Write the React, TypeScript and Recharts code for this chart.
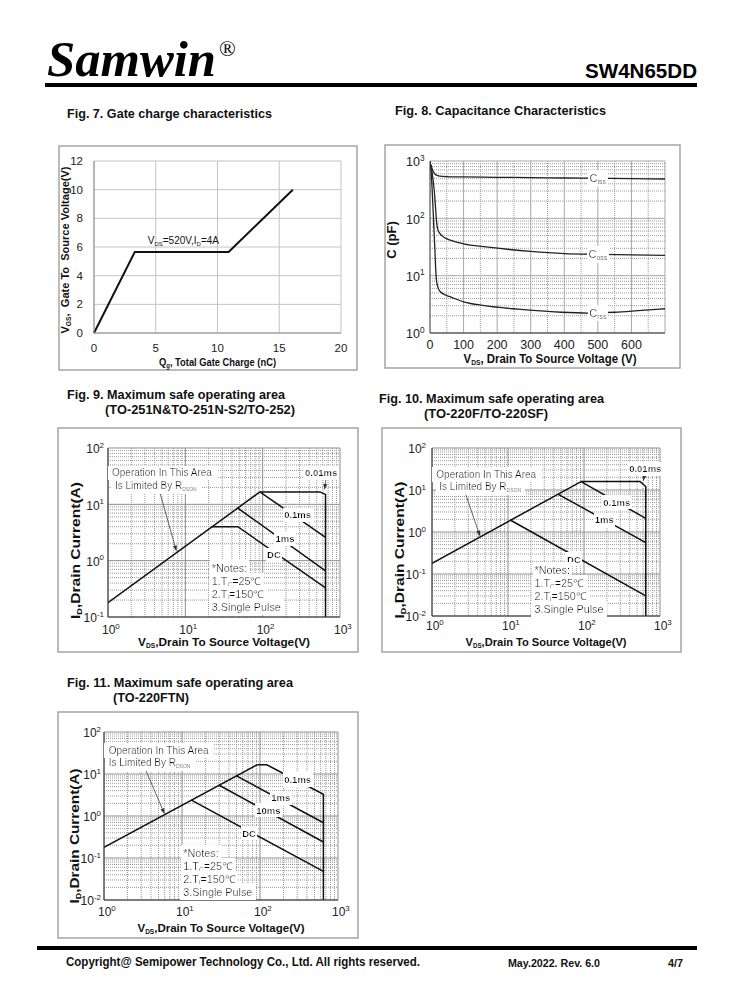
import React from "react";
import {
  ComposedChart,
  Line,
  XAxis,
  YAxis,
  CartesianGrid,
  ReferenceDot,
  ReferenceLine,
  Label,
} from "recharts";

const SANS = "'Liberation Sans', Arial, sans-serif";
const NARROW = "'Liberation Sans Narrow', 'Liberation Sans', Arial, sans-serif";
const INK = "#111";

// ---------- Fig. 7 gate charge ----------
const gateQ = [0, 3.3, 10.9, 16.1];
const gateVgs = [0, 5.65, 5.65, 10];
const gateTicksQ = [0, 5, 10, 15, 20];
const gateTicksV = [0, 2, 4, 6, 8, 10, 12];

// ---------- Fig. 8 capacitance ----------
const cissVds = [0, 4, 8, 12, 16, 20, 30, 50, 100, 200, 300, 400, 500, 600, 700];
const cissPf = [920, 800, 690, 620, 580, 560, 545, 535, 528, 520, 512, 505, 500, 492, 485];
const cossVds = [0, 5, 10, 14, 17, 19, 21, 24, 34, 58, 88, 100, 167, 237, 300, 400, 500, 600, 700];
const cossPf = [950, 700, 420, 250, 140, 95, 75, 62, 51, 42, 37.5, 36, 31.8, 28.6, 26.5, 24.3, 23.5, 23, 22.5];
const crssVds = [0, 3, 6, 9, 12, 14.6, 17, 19, 22, 30, 50, 64, 100, 163, 262, 391, 470, 550, 620, 700];
const crssPf = [1000, 700, 350, 150, 60, 28, 13, 8.5, 6.8, 5.3, 4.5, 4.2, 3.5, 3.0, 2.6, 2.3, 2.23, 2.3, 2.45, 2.65];
const capTicksV = [0, 100, 200, 300, 400, 500, 600];
const capTicksC = [1, 10, 100, 1000];
const capGridV = [100, 200, 300, 400, 500, 600, 700];
const capGridVMinor = [50, 150, 250, 350, 450, 550, 650];
const capGridCMinor = [2, 3, 4, 5, 6, 7, 8, 9, 20, 30, 40, 50, 60, 70, 80, 90, 200, 300, 400, 500, 600, 700, 800, 900];
const capLabelV = 500;
const capLabelC = [500, 23.5, 2.25];

// ---------- SOA shared ----------
const soaDecades = [1, 10, 100, 1000];
const soaMinorV = [2, 3, 4, 5, 6, 7, 8, 9, 20, 30, 40, 50, 60, 70, 80, 90, 200, 300, 400, 500, 600, 700, 800, 900];
const soa3Ticks = [0.1, 1, 10, 100];
const soa3Minor = [0.2, 0.3, 0.4, 0.5, 0.6, 0.7, 0.8, 0.9, 2, 3, 4, 5, 6, 7, 8, 9, 20, 30, 40, 50, 60, 70, 80, 90];
const soa4Ticks = [0.01, 0.1, 1, 10, 100];
const soa4Minor = [0.02, 0.03, 0.04, 0.05, 0.06, 0.07, 0.08, 0.09, ...soa3Minor];

// ---------- Fig. 9 ----------
const f9RdsonV = [1, 92];
const f9RdsonI = [0.18, 16.6];
const f9P10usV = [92, 550, 650, 650];
const f9P10usI = [16.6, 16.6, 15, 0.1];
const f9P100usV = [92, 650];
const f9P100usI = [16.6, 2.6];
const f9P1msV = [47.6, 650];
const f9P1msI = [8.6, 0.66];
const f9DcV = [22, 47.6, 650];
const f9DcI = [4.0, 4.0, 0.33];
const f9Tags = [
  { text: "0.01ms", v: 570, i: 36 },
  { text: "0.1ms", v: 283, i: 6.46 },
  { text: "1ms", v: 195, i: 2.42 },
  { text: "DC", v: 140, i: 1.26 },
];

// ---------- Fig. 10 ----------
const f10RdsonV = [1, 91.6];
const f10RdsonI = [0.18, 15.9];
const f10P10usV = [91.6, 546, 650, 650];
const f10P10usI = [15.9, 15.9, 12.1, 0.01];
const f10P100usV = [91.6, 650];
const f10P100usI = [15.9, 2.1];
const f10P1msV = [45.3, 650];
const f10P1msI = [8.0, 0.56];
const f10DcV = [10.7, 650];
const f10DcI = [1.93, 0.03];
const f10Tags = [
  { text: "0.01ms", v: 640, i: 31.5 },
  { text: "0.1ms", v: 270, i: 5.13 },
  { text: "1ms", v: 185, i: 1.94 },
  { text: "DC", v: 73.7, i: 0.223 },
];

// ---------- Fig. 11 ----------
const f11RdsonV = [1, 92];
const f11RdsonI = [0.18, 16.6];
const f11P100usV = [92, 122, 650, 650];
const f11P100usI = [16.6, 16.6, 3.3, 0.01];
const f11P1msV = [50, 650];
const f11P1msI = [9, 0.69];
const f11P10msV = [30, 650];
const f11P10msI = [5.4, 0.24];
const f11DcV = [13.2, 650];
const f11DcI = [2.38, 0.048];
const f11Tags = [
  { text: "0.1ms", v: 304, i: 7.3 },
  { text: "1ms", v: 185, i: 2.66 },
  { text: "10ms", v: 128, i: 1.35 },
  { text: "DC", v: 72.4, i: 0.39 },
];

const pairs = (xs: number[], ys: number[]) => xs.map((v, k) => ({ v, i: ys[k] }));

// ---------- small svg helpers ----------
function AxisTitle(props: any) {
  const { viewBox, vertical, shift = 0, off = 0, len, size = 12, text } = props;
  if (!viewBox) return null;
  const { x, y, width, height } = viewBox;
  const common = {
    textAnchor: "middle" as const,
    dy: size * 0.35,
    fontSize: size,
    fontWeight: 700,
    fontFamily: NARROW,
    fill: INK,
    textLength: len,
    lengthAdjust: len ? ("spacingAndGlyphs" as const) : undefined,
    style: { whiteSpace: "pre" as const },
  };
  if (vertical) {
    const cx = x + off;
    const cy = y + height / 2 + shift;
    return (
      <text x={cx} y={cy} transform={`rotate(-90 ${cx} ${cy})`} {...common}>
        {text}
      </text>
    );
  }
  return (
    <text x={x + width / 2 + shift} y={y + off} {...common}>
      {text}
    </text>
  );
}

function NumTick(props: any) {
  const { x, y, payload, side, gap = 0, size = 12 } = props;
  const common = { fontSize: size, fontFamily: NARROW, fill: "#222" };
  if (side === "y")
    return (
      <text x={x - gap} y={y} dy={size * 0.35} textAnchor="end" {...common}>
        {payload.value}
      </text>
    );
  return (
    <text x={x} y={y + gap} dy={size * 0.35} textAnchor="middle" {...common}>
      {payload.value}
    </text>
  );
}

function PowTick(props: any) {
  const { x, y, payload, side, gap = 0, size = 12 } = props;
  const e = Math.round(Math.log10(payload.value));
  const common = { fontSize: size, fontFamily: NARROW, fill: "#222" };
  const sup = (
    <tspan dy={-size * 0.45} fontSize={size * 0.66}>
      {e}
    </tspan>
  );
  if (side === "y")
    return (
      <text x={x - gap} y={y + 1} dy={size * 0.35} textAnchor="end" {...common}>
        10{sup}
      </text>
    );
  return (
    <text x={x - size * 0.5} y={y + gap} dy={size * 0.35} textAnchor="start" {...common}>
      10{sup}
    </text>
  );
}

function Tag(props: any) {
  const { viewBox, lines, size = 10.5, weight = 400, anchor = "start", gap = 13, bg = true } = props;
  if (!viewBox) return null;
  return (
    <g>
      {lines.map((ln: any, k: number) => (
        <text
          key={k}
          x={viewBox.x + (ln.dx || 0)}
          y={viewBox.y + k * gap + size * 0.35}
          textAnchor={anchor}
          fontSize={size}
          fontWeight={weight}
          fontFamily={NARROW}
          fill={INK}
          filter={bg ? "url(#paper)" : undefined}
        >
          {ln.node}
        </text>
      ))}
    </g>
  );
}

function ArrowShape(props: any) {
  const { x1, y1, x2, y2 } = props;
  const a = Math.atan2(y2 - y1, x2 - x1);
  const L = 6;
  const W = 2;
  const bx = x2 - L * Math.cos(a);
  const by = y2 - L * Math.sin(a);
  const px = -Math.sin(a) * W;
  const py = Math.cos(a) * W;
  return (
    <g>
      <line x1={x1} y1={y1} x2={bx} y2={by} stroke="#555" strokeWidth={0.9} />
      <polygon points={`${x2},${y2} ${bx + px},${by + py} ${bx - px},${by - py}`} fill="#333" />
    </g>
  );
}

const sub = (s: string, size = 6.5) => (
  <tspan fontSize={size} dy={2}>
    {s}
  </tspan>
);
const back = (s: string) => <tspan dy={-2}>{s}</tspan>;

const notesLines = [
  { node: "*Notes:" },
  { node: <>1.T{sub("C")}{back("=25℃")}</> },
  { node: <>2.T{sub("j")}{back("=150℃")}</> },
  { node: "3.Single Pulse" },
];
const opLines = (dx: number) => [
  { node: "Operation In This Area" },
  { node: <>Is Limited By R{sub("DSON", 5)}</>, dx },
];

// ---------- Fig. 7 ----------
function GateChargeChart() {
  const f = { l: 59, t: 146, r: 357, b: 370 };
  const p = { l: 94, t: 161, r: 341, b: 333 };
  const data = pairs(gateQ, gateVgs);
  return (
    <div style={{ position: "absolute", left: f.l, top: f.t }}>
      <ComposedChart
        width={f.r - f.l}
        height={f.b - f.t}
        data={data}
        margin={{ top: p.t - f.t, right: f.r - p.r, bottom: 0, left: 0 }}
      >
        <CartesianGrid stroke="#c4c4c4" />
        <XAxis
          dataKey="v"
          type="number"
          domain={[0, 20]}
          ticks={gateTicksQ}
          interval={0}
          height={f.b - p.b}
          tickSize={0}
          tickMargin={0}
          tickLine={false}
          axisLine={{ stroke: "#8c8c8c" }}
          tick={<NumTick side="x" gap={15} size={11.5} />}
        >
          <Label
            content={
              <AxisTitle
                off={29}
                len={117}
                size={11}
                text={<>Q{sub("g", 7)}{back(", Total Gate Charge (nC)")}</>}
              />
            }
          />
        </XAxis>
        <YAxis
          type="number"
          domain={[0, 12]}
          ticks={gateTicksV}
          interval={0}
          width={p.l - f.l}
          tickSize={0}
          tickMargin={0}
          tickLine={false}
          axisLine={{ stroke: "#8c8c8c" }}
          tick={<NumTick side="y" gap={11} size={11.5} />}
        >
          <Label
            content={
              <AxisTitle
                vertical
                off={6}
                shift={3}
                len={167}
                size={11.5}
                text={<>V{sub("GS", 7)}{back(",  Gate To  Source Voltage(V)")}</>}
              />
            }
          />
        </YAxis>
        <Line
          dataKey="i"
          type="linear"
          stroke={INK}
          strokeWidth={2}
          dot={false}
          isAnimationActive={false}
        />
        <ReferenceDot
          x={4.35}
          y={6.47}
          r={0}
          fill="none"
          stroke="none"
          label={
            <Tag
              bg={false}
              size={10}
              lines={[{ node: <>V{sub("DS", 6)}{back("=520V,I")}{sub("D", 6)}{back("=4A")}</> }]}
            />
          }
        />
      </ComposedChart>
    </div>
  );
}

// ---------- Fig. 8 ----------
function CapacitanceChart() {
  const f = { l: 385, t: 145, r: 680, b: 368 };
  const p = { l: 430, t: 161, r: 665, b: 333 };
  const curves = [
    { name: "iss", data: pairs(cissVds, cissPf) },
    { name: "oss", data: pairs(cossVds, cossPf) },
    { name: "rss", data: pairs(crssVds, crssPf) },
  ];
  return (
    <div style={{ position: "absolute", left: f.l, top: f.t }}>
      <ComposedChart
        width={f.r - f.l}
        height={f.b - f.t}
        margin={{ top: p.t - f.t, right: f.r - p.r, bottom: 0, left: 0 }}
      >
        <CartesianGrid
          verticalValues={capGridVMinor}
          horizontalValues={capGridCMinor}
          stroke="#9c9c9c"
          strokeDasharray="1 1"
        />
        <CartesianGrid verticalValues={capGridV} horizontalValues={capTicksC} stroke="#a8a8a8" />
        <XAxis
          dataKey="v"
          type="number"
          domain={[0, 700]}
          allowDataOverflow
          ticks={capTicksV}
          interval={0}
          height={f.b - p.b}
          tickSize={0}
          tickMargin={0}
          tickLine={false}
          axisLine={{ stroke: "#333" }}
          tick={<NumTick side="x" gap={12} size={12.5} />}
        >
          <Label
            content={
              <AxisTitle
                off={26}
                shift={2.5}
                len={173}
                size={12}
                text={<>V{sub("DS", 7)}{back(", Drain To Source Voltage (V)")}</>}
              />
            }
          />
        </XAxis>
        <YAxis
          type="number"
          scale="log"
          domain={[1, 1000]}
          allowDataOverflow
          ticks={capTicksC}
          interval={0}
          width={p.l - f.l}
          tickSize={0}
          tickMargin={0}
          tickLine={false}
          axisLine={{ stroke: "#333" }}
          tick={<PowTick side="y" gap={5.5} size={12.5} />}
        >
          <Label content={<AxisTitle vertical off={6} shift={-7} size={13} text="C (pF)" />} />
        </YAxis>
        {curves.map((c) => (
          <Line
            key={c.name}
            data={c.data}
            dataKey="i"
            type="monotone"
            stroke="#222"
            strokeWidth={1.3}
            dot={false}
            isAnimationActive={false}
          />
        ))}
        {curves.map((c, k) => (
          <ReferenceDot
            key={"l" + c.name}
            x={capLabelV}
            y={capLabelC[k]}
            r={0}
            fill="none"
            stroke="none"
            label={
              <Tag
                anchor="middle"
                size={11}
                lines={[{ node: <>C{sub(c.name, 7)}</> }]}
              />
            }
          />
        ))}
      </ComposedChart>
    </div>
  );
}

// ---------- SOA generic ----------
function SoaChart(props: any) {
  const { f, p, iDomain, iTicks, iMinor, series, tags, op, opDx, opArrow, tiny, notes, xt, yt, tg } = props;
  return (
    <div style={{ position: "absolute", left: f.l, top: f.t }}>
      <ComposedChart
        width={f.r - f.l}
        height={f.b - f.t}
        margin={{ top: p.t - f.t, right: f.r - p.r, bottom: 0, left: 0 }}
      >
        <CartesianGrid
          verticalValues={soaMinorV}
          horizontalValues={iMinor}
          stroke="#9a9a9a"
          strokeDasharray="1 1"
        />
        <CartesianGrid verticalValues={soaDecades} horizontalValues={iTicks} stroke="#8f8f8f" />
        <XAxis
          dataKey="v"
          type="number"
          scale="log"
          domain={[1, 1000]}
          allowDataOverflow
          ticks={soaDecades}
          interval={0}
          height={f.b - p.b}
          tickSize={0}
          tickMargin={0}
          tickLine={false}
          axisLine={{ stroke: "#333" }}
          tick={<PowTick side="x" gap={tg.x} size={12} />}
        >
          <Label
            content={
              <AxisTitle
                off={xt.off}
                len={xt.len}
                size={11.5}
                text={<>V{sub("DS", 6.5)}{back(",Drain To Source Voltage(V)")}</>}
              />
            }
          />
        </XAxis>
        <YAxis
          type="number"
          scale="log"
          domain={iDomain}
          allowDataOverflow
          ticks={iTicks}
          interval={0}
          width={p.l - f.l}
          tickSize={0}
          tickMargin={0}
          tickLine={false}
          axisLine={{ stroke: "#333" }}
          tick={<PowTick side="y" gap={tg.y} size={12} />}
        >
          <Label
            content={
              <AxisTitle
                vertical
                off={yt.off}
                shift={yt.shift}
                len={yt.len}
                size={12}
                text={<>I{sub("D", 7)}{back(",Drain Current(A)")}</>}
              />
            }
          />
        </YAxis>
        {series.map((s: any, k: number) => (
          <Line
            key={k}
            data={s}
            dataKey="i"
            type="linear"
            stroke={INK}
            strokeWidth={1.5}
            dot={false}
            isAnimationActive={false}
          />
        ))}
        <ReferenceLine
          segment={[
            { x: opArrow[0], y: opArrow[1] },
            { x: opArrow[2], y: opArrow[3] },
          ]}
          ifOverflow="visible"
          shape={ArrowShape}
        />
        {tiny && (
          <ReferenceLine
            segment={[
              { x: tiny[0], y: tiny[1] },
              { x: tiny[2], y: tiny[3] },
            ]}
            ifOverflow="visible"
            shape={ArrowShape}
          />
        )}
        {tags.map((t: any) => (
          <ReferenceDot
            key={t.text}
            x={t.v}
            y={t.i}
            r={0}
            fill="none"
            stroke="none"
            label={<Tag anchor="middle" size={9.5} weight={700} lines={[{ node: t.text }]} />}
          />
        ))}
        <ReferenceDot
          x={op.v}
          y={op.i}
          r={0}
          fill="none"
          stroke="none"
          label={<Tag size={10} gap={12.5} lines={opLines(opDx)} />}
        />
        <ReferenceDot
          x={notes.v}
          y={notes.i}
          r={0}
          fill="none"
          stroke="none"
          label={<Tag size={10.8} gap={13} lines={notesLines} />}
        />
      </ComposedChart>
    </div>
  );
}

function PageDecor() {
  const title = (x: number, y: number, s: string, len: number, size = 13.5) => (
    <text
      x={x}
      y={y}
      fontSize={size}
      fontWeight={700}
      fontFamily={NARROW}
      fill={INK}
      textLength={len}
      lengthAdjust="spacingAndGlyphs"
    >
      {s}
    </text>
  );
  const frame = (l: number, t: number, r: number, b: number) => (
    <rect x={l} y={t} width={r - l} height={b - t} fill="none" stroke="#a5a5a5" strokeWidth={1.5} />
  );
  return (
    <svg width={738} height={1000} style={{ position: "absolute", left: 0, top: 0 }}>
      <defs>
        <filter id="paper" x="-0.04" y="-0.1" width="1.08" height="1.2">
          <feFlood floodColor="#ffffff" result="bg" />
          <feMerge>
            <feMergeNode in="bg" />
            <feMergeNode in="SourceGraphic" />
          </feMerge>
        </filter>
      </defs>
      <text
        x={47}
        y={76}
        fontSize={50}
        fontWeight={700}
        fontStyle="italic"
        fontFamily="'Liberation Serif', 'Times New Roman', serif"
        fill="#000"
        textLength={169}
        lengthAdjust="spacingAndGlyphs"
      >
        Samwin
      </text>
      <text x={219} y={56} fontSize={22} fontFamily="'Liberation Serif', serif" fill="#000">
        ®
      </text>
      <text
        x={585}
        y={78}
        fontSize={20}
        fontWeight={700}
        fontFamily={SANS}
        fill="#000"
        textLength={112}
        lengthAdjust="spacingAndGlyphs"
      >
        SW4N65DD
      </text>
      <rect x={45} y={83} width={652} height={4} fill="#000" />

      {title(67, 118, "Fig. 7. Gate charge characteristics", 205)}
      {title(395, 115, "Fig. 8. Capacitance Characteristics", 211)}
      {title(67, 399, "Fig. 9. Maximum safe operating area", 218)}
      {title(105, 414, "(TO-251N&TO-251N-S2/TO-252)", 190)}
      {title(379, 403, "Fig. 10. Maximum safe operating area", 225)}
      {title(424, 418, "(TO-220F/TO-220SF)", 124)}
      {title(67, 687, "Fig. 11. Maximum safe operating area", 226)}
      {title(113, 702, "(TO-220FTN)", 76)}

      {frame(59, 146, 357, 370)}
      {frame(385, 145, 680, 368)}
      {frame(58, 428, 358, 652)}
      {frame(382, 428, 681, 652)}
      {frame(58, 712, 358, 938)}

      <rect x={37} y={946} width={660} height={4} fill="#000" />
      {title(66, 966, "Copyright@ Semipower Technology Co., Ltd. All rights reserved.", 354, 12.5)}
      {title(508, 967, "May.2022. Rev. 6.0", 92, 11.5)}
      {title(668, 967, "4/7", 15, 11.5)}
    </svg>
  );
}

export default function App() {
  return (
    <div
      style={{
        position: "absolute",
        left: 0,
        top: 0,
        width: 738,
        height: 1000,
        background: "#fff",
        overflow: "hidden",
        fontFamily: SANS,
      }}
    >
      <PageDecor />
      <GateChargeChart />
      <CapacitanceChart />
      <SoaChart
        f={{ l: 58, t: 428, r: 358, b: 652 }}
        p={{ l: 108, t: 448, r: 340, b: 617 }}
        iDomain={[0.1, 100]}
        iTicks={soa3Ticks}
        iMinor={soa3Minor}
        series={[
          pairs(f9RdsonV, f9RdsonI),
          pairs(f9P10usV, f9P10usI),
          pairs(f9P100usV, f9P100usI),
          pairs(f9P1msV, f9P1msI),
          pairs(f9DcV, f9DcI),
        ]}
        tags={f9Tags}
        op={{ v: 1.127, i: 36 }}
        opDx={3}
        opArrow={[4.5, 19.7, 7.7, 1.45]}
        tiny={[660, 29, 630, 18]}
        notes={{ v: 22, i: 0.73 }}
        xt={{ off: 25, len: 172 }}
        yt={{ off: 18, shift: 18, len: 137 }}
        tg={{ x: 13, y: 4 }}
      />
      <SoaChart
        f={{ l: 382, t: 428, r: 681, b: 652 }}
        p={{ l: 432, t: 448, r: 660, b: 616 }}
        iDomain={[0.01, 100]}
        iTicks={soa4Ticks}
        iMinor={soa4Minor}
        series={[
          pairs(f10RdsonV, f10RdsonI),
          pairs(f10P10usV, f10P10usI),
          pairs(f10P100usV, f10P100usI),
          pairs(f10P1msV, f10P1msI),
          pairs(f10DcV, f10DcI),
        ]}
        tags={f10Tags}
        op={{ v: 1.14, i: 23.5 }}
        opDx={3}
        opArrow={[2.68, 9.5, 4.3, 0.78]}
        tiny={[625, 22, 598, 16.2]}
        notes={{ v: 22.3, i: 0.124 }}
        xt={{ off: 26, len: 161 }}
        yt={{ off: 18, shift: 18, len: 137 }}
        tg={{ x: 10, y: 6 }}
      />
      <SoaChart
        f={{ l: 58, t: 712, r: 358, b: 938 }}
        p={{ l: 104, t: 732, r: 338, b: 900 }}
        iDomain={[0.01, 100]}
        iTicks={soa4Ticks}
        iMinor={soa4Minor}
        series={[
          pairs(f11RdsonV, f11RdsonI),
          pairs(f11P100usV, f11P100usI),
          pairs(f11P1msV, f11P1msI),
          pairs(f11P10msV, f11P10msI),
          pairs(f11DcV, f11DcI),
        ]}
        tags={f11Tags}
        op={{ v: 1.15, i: 36.4 }}
        opDx={0}
        opArrow={[3.27, 15.1, 6, 1.1]}
        notes={{ v: 10.4, i: 0.129 }}
        xt={{ off: 28, len: 167 }}
        yt={{ off: 17, shift: 20, len: 135 }}
        tg={{ x: 12, y: 3 }}
      />
    </div>
  );
}
